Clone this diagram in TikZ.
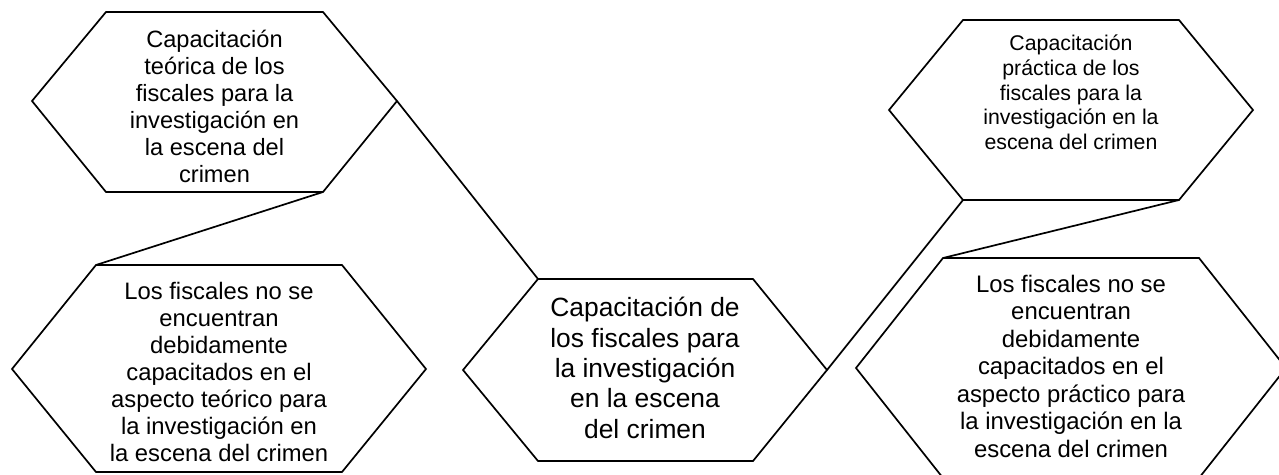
\documentclass[tikz,border=0pt]{standalone}
\usepackage{fontspec}
\setmainfont{Liberation Sans}
\begin{document}
\begin{tikzpicture}[x=1pt,y=-1pt,
  hexline/.style={draw=black,line width=1.7pt,line join=miter},
  conn/.style={draw=black,line width=1.7pt},
  hextext/.style={anchor=base,align=center,inner sep=0pt,text=black}]
\useasboundingbox (0,0) rectangle (1279,474);
\clip (0,0) rectangle (1279,474);
% hexagon vertices
\coordinate (h1l) at (32,101);  \coordinate (h1tl) at (106,12);  \coordinate (h1tr) at (323,12);
\coordinate (h1r) at (397,101); \coordinate (h1br) at (323,192); \coordinate (h1bl) at (106,192);
\coordinate (h2l) at (12,369);  \coordinate (h2tl) at (96,265);  \coordinate (h2tr) at (342,265);
\coordinate (h2r) at (426,369); \coordinate (h2br) at (342,472); \coordinate (h2bl) at (96,472);
\coordinate (h3l) at (463,370); \coordinate (h3tl) at (538,279); \coordinate (h3tr) at (753,279);
\coordinate (h3r) at (827,370); \coordinate (h3br) at (753,461); \coordinate (h3bl) at (538,461);
\coordinate (h4l) at (889,110); \coordinate (h4tl) at (963,20);  \coordinate (h4tr) at (1179,20);
\coordinate (h4r) at (1253,110);\coordinate (h4br) at (1179,200);\coordinate (h4bl) at (963,200);
\coordinate (h5l) at (856,368); \coordinate (h5tl) at (943,258); \coordinate (h5tr) at (1199,258);
\coordinate (h5r) at (1286,368);\coordinate (h5br) at (1199,478);\coordinate (h5bl) at (943,478);
\foreach \h in {h1,h2,h3,h4,h5}{
  \path[hexline] (\h l) -- (\h tl) -- (\h tr) -- (\h r) -- (\h br) -- (\h bl) -- cycle;
}
% connectors
\path[conn] (h1r) -- (h3tl);
\path[conn] (h1br) -- (h2tl);
\path[conn] (h4bl) -- (h3r);
\path[conn] (h4br) -- (h5tl);
% texts (anchor base = baseline of the last line)
\node[hextext,font=\fontsize{23.6}{27.07}\selectfont] (t1) at (214.5,182.4)
  {Capacitación\\teórica de los\\fiscales para la\\investigación en\\la escena del\\crimen};
\node[hextext,font=\fontsize{23.8}{27.07}\selectfont] (t2) at (219,461.7)
  {Los fiscales no se\\encuentran\\debidamente\\capacitados en el\\aspecto teórico para\\la investigación en\\la escena del crimen};
\node[hextext,font=\fontsize{26.4}{30.4}\selectfont] (t3) at (645,438.3)
  {Capacitación de\\los fiscales para\\la investigación\\en la escena\\del crimen};
\node[hextext,font=\fontsize{21.3}{24.6}\selectfont] (t4) at (1071,149.3)
  {Capacitación\\práctica de los\\fiscales para la\\investigación en la\\escena del crimen};
\node[hextext,font=\fontsize{23.9}{27.5}\selectfont] (t5) at (1071,457.3)
  {Los fiscales no se\\encuentran\\debidamente\\capacitados en el\\aspecto práctico para\\la investigación en la\\escena del crimen};
\end{tikzpicture}
\end{document}
